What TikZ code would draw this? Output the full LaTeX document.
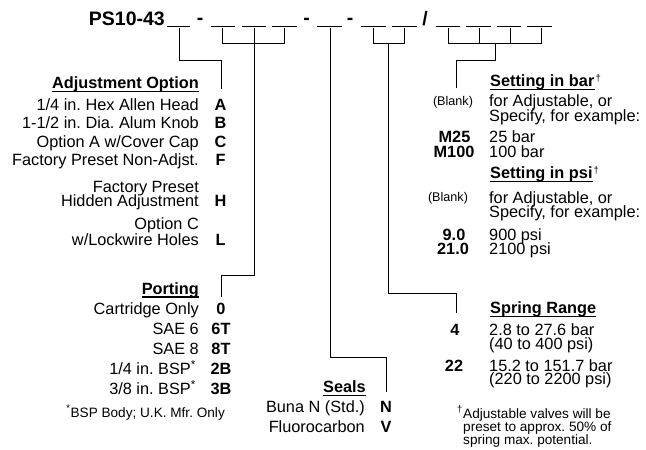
\documentclass[tikz,border=0pt]{standalone}
\usepackage{fontspec}
\setmainfont{Liberation Sans}
\frenchspacing
\newcommand{\rightlines}[2]{\vtop{\baselineskip=#1pt\lineskiplimit=-30pt\halign{\hfil##\cr#2\crcr}}}
\newcommand{\leftlines}[2]{\vtop{\baselineskip=#1pt\lineskiplimit=-30pt\halign{##\hfil\cr#2\crcr}}}
\begin{document}
\begin{tikzpicture}[x=1pt,y=-1pt,
  ln/.style={line width=1pt},
  ul/.style={line width=1.1pt},
  txt/.style={inner sep=0pt, font=\fontsize{16.3}{18}\selectfont},
  lt/.style={txt, anchor=base east},
  rt/.style={txt, anchor=base west},
  code/.style={inner sep=0pt, anchor=base, font=\fontsize{16.3}{18}\selectfont\bfseries},
  hdrl/.style={inner sep=0pt, anchor=base east, font=\fontsize{16.3}{18}\selectfont\bfseries},
  hdrr/.style={inner sep=0pt, anchor=base west, font=\fontsize{16.3}{18}\selectfont\bfseries},
  note/.style={inner sep=0pt, font=\fontsize{13.6}{13.4}\selectfont},
  blanklbl/.style={inner sep=0pt, anchor=base, font=\fontsize{12.6}{14}\selectfont},
  ttl/.style={inner sep=0pt, font=\fontsize{19.5}{22}\selectfont\bfseries},
]
\useasboundingbox (0,0) rectangle (646,450);

% ---------- title and blanks ----------
\node[ttl, anchor=base east] (pn) at (165,25) {PS10-43};
\foreach \n/\a/\b in {1/167/190, 2/211/235, 3/242/266, 4/272/297, 5/317/342,
                      6/361/386, 7/392/417, 8/436/460, 9/466/491, 10/497/521, 11/527/552}
  {\coordinate (u\n a) at (\a,26.5); \coordinate (u\n b) at (\b,26.5);
   \draw[ln] (u\n a) -- (u\n b);}
\node[ttl, anchor=base] (d1) at (200,24.5) {-};
\node[ttl, anchor=base] (d2) at (306.5,24.5) {-};
\node[ttl, anchor=base] (d3) at (350,24.5) {-};
\node[ttl, anchor=base] (sl) at (425,25) {/};

% ---------- connectors ----------
% adjustment
\coordinate (tA) at (179.3,28); \coordinate (jA) at (221,60); \coordinate (eA) at (221,89);
\draw[ln] (tA) |- (jA) -- (eA);
% porting
\coordinate (tP1) at (222,28); \coordinate (tP2) at (254.3,28); \coordinate (tP3) at (284.3,28);
\coordinate (bP1) at (222,43); \coordinate (bP3) at (284.3,43);
\draw[ln] (tP1) -- (bP1) -- (bP3) -- (tP3);
\coordinate (jP) at (221,275); \coordinate (eP) at (221,297);
\draw[ln] (tP2) |- (jP) -- (eP);
% seals
\coordinate (tS) at (330.5,28); \coordinate (jS) at (386,357); \coordinate (eS) at (386,392);
\draw[ln] (tS) |- (jS) -- (eS);
% spring
\coordinate (tR1) at (373,28); \coordinate (tR2) at (404,28);
\coordinate (bR1) at (373,43); \coordinate (bR2) at (404,43);
\draw[ln] (tR1) -- (bR1) -- (bR2) -- (tR2);
\coordinate (cR) at (388.5,43); \coordinate (jR) at (456,293); \coordinate (eR) at (456,313);
\draw[ln] (cR) |- (jR) -- (eR);
% setting
\coordinate (tT1) at (448.5,28); \coordinate (tT2) at (479.5,28);
\coordinate (tT3) at (510.7,28); \coordinate (tT4) at (541.7,28);
\coordinate (bT1) at (448.5,43); \coordinate (bT2) at (479.5,43);
\coordinate (bT3) at (510.7,43); \coordinate (bT4) at (541.7,43);
\draw[ln] (tT1) -- (bT1) -- (bT4) -- (tT4);
\draw[ln] (tT2) -- (bT2);
\draw[ln] (tT3) -- (bT3);
\coordinate (cT) at (495,43); \coordinate (jT) at (456,60); \coordinate (eT) at (456,88);
\draw[ln] (cT) |- (jT) -- (eT);

% ---------- Adjustment Option ----------
\node[hdrl] (adjh) at (199,88) {Adjustment Option};
\draw[ul] ([yshift=-3.5pt]adjh.base west) -- ([yshift=-3.5pt]adjh.base east);
\node[lt] (a1) at (199,110.5) {1/4 in. Hex Allen Head};
\node[code] (cA) at (220.5,110.5) {A};
\node[lt] (a2) at (199,128.7) {1-1/2 in. Dia. Alum Knob};
\node[code] (cB) at (220.5,128.7) {B};
\node[lt] (a3) at (199,147) {Option A w/Cover Cap};
\node[code] (cC) at (220.5,147) {C};
\node[lt] (a4) at (199,165.3) {Factory Preset Non-Adjst.};
\node[code] (cF) at (220.5,165.3) {F};
\node[lt] (a5) at (199,192) {\rightlines{14.5}{Factory Preset\cr Hidden Adjustment}};
\node[code] (cH) at (220.5,206.5) {H};
\node[lt] (a7) at (199,229.7) {\rightlines{15.3}{Option C\cr w/Lockwire Holes}};
\node[code] (cL) at (220.5,245) {L};

% ---------- Porting ----------
\node[hdrl] (porh) at (199,294) {Porting};
\draw[ul] ([yshift=-3pt]porh.base west) -- ([yshift=-3pt]porh.base east);
\node[lt] (p1) at (199,314.5) {Cartridge Only};
\node[code] (c0) at (221,314.5) {0};
\node[lt] (p2) at (199,334.5) {SAE 6};
\node[code] (c6T) at (221,334.5) {6T};
\node[lt] (p3) at (199,354.5) {SAE 8};
\node[code] (c8T) at (221,354.5) {8T};
\node[lt] (p4) at (196,374.5) {1/4 in. BSP\textsuperscript{*}};
\node[code] (c2B) at (221,374.5) {2B};
\node[lt] (p5) at (196,394.5) {3/8 in. BSP\textsuperscript{*}};
\node[code] (c3B) at (221,394.5) {3B};
\node[note, anchor=base east] (pnote) at (225,417) {\textsuperscript{*}BSP Body; U.K. Mfr. Only};

% ---------- Seals ----------
\node[hdrl] (sealh) at (366,392.7) {Seals};
\draw[ul] ([yshift=-3pt]sealh.base west) -- ([yshift=-3pt]sealh.base east);
\node[lt] (s1) at (365,412.4) {Buna N (Std.)};
\node[code] (cN) at (386,412.4) {N};
\node[lt] (s2) at (365,432.4) {Fluorocarbon};
\node[code] (cV) at (386,432.4) {V};

% ---------- Setting ----------
\node[hdrr] (barh) at (490,86.7) {Setting in bar};
\draw[ul] ([yshift=-3pt]barh.base west) -- ([yshift=-3pt]barh.base east);
\node[note, anchor=base west] (dg1) at ([xshift=0.8pt]barh.base east) {\textsuperscript{†}};
\node[blanklbl] (bl1) at (453,105.5) {(Blank)};
\node[rt] (t1) at (489,106.7) {\leftlines{14.3}{for Adjustable, or\cr Specify, for example:}};
\node[code] (cM25) at (454.5,142.7) {M25};
\node[rt] (t3) at (489,142.7) {25 bar};
\node[code] (cM100) at (454,157.7) {M100};
\node[rt] (t4) at (489,157.7) {100 bar};
\node[hdrr] (psih) at (490,178.4) {Setting in psi};
\draw[ul] ([yshift=-3pt]psih.base west) -- ([yshift=-3pt]psih.base east);
\node[note, anchor=base west] (dg2) at ([xshift=0.8pt]psih.base east) {\textsuperscript{†}};
\node[blanklbl] (bl2) at (448,201.5) {(Blank)};
\node[rt] (t5) at (489,203.4) {\leftlines{14.3}{for Adjustable, or\cr Specify, for example:}};
\node[code] (c90) at (454,240) {9.0};
\node[rt] (t7) at (489,240) {900 psi};
\node[code] (c210) at (453,254.4) {21.0};
\node[rt] (t8) at (489,254.4) {2100 psi};

% ---------- Spring Range ----------
\node[hdrr] (sprh) at (490,313.4) {Spring Range};
\draw[ul] ([yshift=-3pt]sprh.base west) -- ([yshift=-3pt]sprh.base east);
\node[code] (c4) at (455,335.7) {4};
\node[rt] (r1) at (489,335.7) {\leftlines{13.3}{2.8 to 27.6 bar\cr (40 to 400 psi)}};
\node[code] (c22) at (454,371) {22};
\node[rt] (r3) at (489,371) {\leftlines{13.4}{15.2 to 151.7 bar\cr (220 to 2200 psi)}};

% ---------- footnote ----------
\node[note, anchor=base east] (dg3) at (463,418) {\textsuperscript{†}};
\node[note, anchor=base west] (f1) at (463,418) {\leftlines{13.4}{Adjustable valves will be\cr preset to approx. 50\% of\cr spring max. potential.}};
\end{tikzpicture}
\end{document}
